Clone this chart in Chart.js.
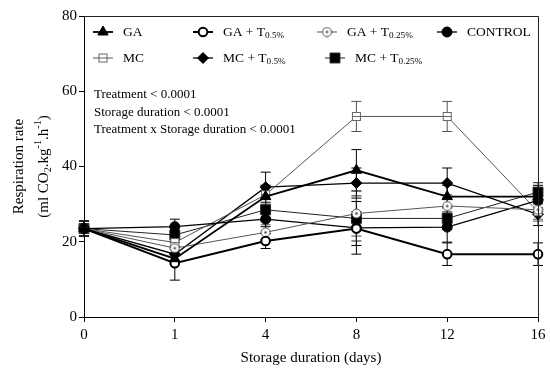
<!DOCTYPE html>
<html>
<head>
<meta charset="utf-8">
<script src="https://cdn.jsdelivr.net/npm/chart.js@4.4.1/dist/chart.umd.min.js"></script>
<style>
  html, body { margin: 0; padding: 0; background: #fff; }
  #wrap { width: 550px; height: 372px; }
</style>
</head>
<body>
<div id="wrap"><canvas id="myChart" width="550" height="372"></canvas></div>
<script>
// data
var days = ['0', '1', '4', '8', '12', '16'];
var yTicks = [0, 20, 40, 60, 80];

var ga      = [23.5, 15.5, 32.0, 39.0, 32.0, 32.0];
var gaT05   = [23.5, 14.3, 20.2, 23.5, 16.7, 16.7];
var gaT025  = [23.5, 18.3, 22.5, 27.5, 29.5, 28.5];
var control = [23.5, 24.0, 26.0, 23.7, 23.9, 31.0];
var mc      = [23.5, 19.8, 32.5, 53.3, 53.3, 28.0];
var mcT05   = [23.5, 16.7, 34.5, 35.6, 35.6, 27.3];
var mcT025  = [23.5, 21.8, 28.5, 26.2, 26.2, 33.2];

// error bars (+/-)
var gaErr      = [2, 1.5, 3, 5.5, 3, 3];
var gaT05Err   = [2, 4.5, 2, 4.5, 3, 3];
var gaT025Err  = [2, 2, 2, 6, 3, 3];
var controlErr = [2, 2, 2, 7, 4, 3];
var mcErr      = [2, 2, 2.5, 4, 4, 2];
var mcT05Err   = [2, 2, 4, 4, 4, 3];
var mcT025Err  = [2, 2, 3, 6, 3, 2.5];

var SERIF = "'Liberation Serif', 'DejaVu Serif', serif";

// custom marker images: open square with bar, open circle with dot
function makeBoxBar() {
    var c = document.createElement('canvas');
    c.width = 11; c.height = 11;
    var g = c.getContext('2d');
    g.fillStyle = '#fff';
    g.fillRect(1, 1, 9, 9);
    g.strokeStyle = '#666';
    g.lineWidth = 1;
    g.strokeRect(1.5, 1.5, 8, 8);
    g.beginPath(); g.moveTo(1.5, 5.5); g.lineTo(9.5, 5.5); g.stroke();
    return c;
}
function makeCircleDot() {
    var c = document.createElement('canvas');
    c.width = 11; c.height = 11;
    var g = c.getContext('2d');
    g.fillStyle = '#fff';
    g.beginPath(); g.arc(5.5, 5.5, 4.5, 0, Math.PI * 2); g.fill();
    g.strokeStyle = '#444';
    g.lineWidth = 1;
    g.stroke();
    g.fillStyle = '#444';
    g.beginPath(); g.arc(5.5, 5.5, 1.2, 0, Math.PI * 2); g.fill();
    return c;
}
var boxBar = makeBoxBar();
var circleDot = makeCircleDot();

function series(label, data, err, color, lw, style, radius, fill, bw) {
    return {
        label: label,
        data: data,
        err: err,
        borderColor: color,
        borderWidth: lw,
        pointStyle: style,
        pointRadius: radius,
        pointHoverRadius: radius,
        pointBackgroundColor: fill,
        pointBorderColor: color,
        pointBorderWidth: bw,
        tension: 0,
        fill: false
    };
}

var datasets = [
    series('GA', ga, gaErr, '#000', 1.8, 'triangle', 6, '#000', 1),
    series('GA + T|0.5%', gaT05, gaT05Err, '#000', 2, 'circle', 4.3, '#fff', 2),
    series('GA + T|0.25%', gaT025, gaT025Err, '#555', 1, circleDot, 5.5, '#fff', 1),
    series('CONTROL', control, controlErr, '#000', 1.3, 'circle', 5, '#000', 1),
    series('MC', mc, mcErr, '#555', 1, boxBar, 5.5, '#fff', 1),
    series('MC + T|0.5%', mcT05, mcT05Err, '#000', 1.3, 'rectRot', 5.5, '#000', 1),
    series('MC + T|0.25%', mcT025, mcT025Err, '#222', 1, 'rect', 7, '#000', 1)
];

// legend slots: [symbol x, text x, row y]
var legendPos = [
    [103, 123, 32], [203, 223, 32], [327, 347, 32], [447, 467, 32],
    [103, 123, 58], [203, 223, 58], [335, 355, 58]
];

var notes = ['Treatment < 0.0001', 'Storage duration < 0.0001', 'Treatment x Storage duration < 0.0001'];

// draw text with sub/superscript parts; parts: [text, kind]
function richWidth(ctx, parts, size) {
    var w = 0;
    parts.forEach(function (p) {
        ctx.font = (p[1] ? size * 0.68 : size) + 'px ' + SERIF;
        w += ctx.measureText(p[0]).width;
    });
    return w;
}
function drawRich(ctx, parts, x, y, size) {
    parts.forEach(function (p) {
        var s = p[1] ? size * 0.68 : size;
        var dy = p[1] === 'sub' ? size * 0.3 : (p[1] === 'sup' ? -size * 0.38 : 0);
        ctx.font = s + 'px ' + SERIF;
        ctx.fillText(p[0], x, y + dy);
        x += ctx.measureText(p[0]).width;
    });
}

var errorBars = {
    id: 'errorBars',
    beforeDatasetsDraw: function (chart) {
        var ctx = chart.ctx, yS = chart.scales.y, xS = chart.scales.x;
        ctx.save();
        chart.data.datasets.forEach(function (ds) {
            ctx.strokeStyle = ds.borderColor;
            ctx.lineWidth = 1;
            ds.data.forEach(function (v, i) {
                var x = xS.getPixelForValue(i);
                var y1 = yS.getPixelForValue(v + ds.err[i]);
                var y2 = yS.getPixelForValue(v - ds.err[i]);
                ctx.beginPath();
                ctx.moveTo(x, y1); ctx.lineTo(x, y2);
                ctx.moveTo(x - 5, y1); ctx.lineTo(x + 5, y1);
                ctx.moveTo(x - 5, y2); ctx.lineTo(x + 5, y2);
                ctx.stroke();
            });
        });
        ctx.restore();
    }
};

var decor = {
    id: 'decor',
    afterDraw: function (chart) {
        var ctx = chart.ctx, a = chart.chartArea;
        ctx.save();
        // frame top + right
        ctx.strokeStyle = '#222';
        ctx.lineWidth = 1;
        ctx.beginPath();
        ctx.moveTo(a.left, a.top + 0.5); ctx.lineTo(a.right + 0.5, a.top + 0.5);
        ctx.lineTo(a.right + 0.5, a.bottom);
        ctx.stroke();

        ctx.fillStyle = '#000';
        ctx.textBaseline = 'middle';

        // legend
        chart.data.datasets.forEach(function (ds, i) {
            var p = legendPos[i];
            ctx.strokeStyle = ds.borderColor;
            ctx.lineWidth = ds.borderWidth;
            ctx.beginPath();
            ctx.moveTo(p[0] - 10, p[2]); ctx.lineTo(p[0] + 10, p[2]);
            ctx.stroke();
            ctx.fillStyle = ds.pointBackgroundColor;
            ctx.strokeStyle = ds.pointBorderColor;
            ctx.lineWidth = ds.pointBorderWidth;
            Chart.helpers.drawPoint(ctx, {
                pointStyle: ds.pointStyle, radius: ds.pointRadius,
                borderWidth: ds.pointBorderWidth, rotation: 0
            }, p[0], p[2]);
            ctx.fillStyle = '#000';
            var bits = ds.label.split('|');
            var parts = [[bits[0]]];
            if (bits[1]) parts.push([bits[1], 'sub']);
            drawRich(ctx, parts, p[1], p[2], 13.5);
        });

        // stats notes
        ctx.font = '13px ' + SERIF;
        notes.forEach(function (t, i) {
            ctx.fillText(t, a.left + 10, 95 + i * 17.5);
        });

        // x title
        ctx.textAlign = 'center';
        ctx.font = '15px ' + SERIF;
        ctx.fillText('Storage duration (days)', (a.left + a.right) / 2, 358);
        ctx.textAlign = 'left';

        // y title, two lines rotated
        var yc = (a.top + a.bottom) / 2;
        var l1 = [['Respiration rate']];
        var l2 = [['(ml CO'], ['2', 'sub'], ['.kg'], ['-1', 'sup'], ['.h'], ['-1', 'sup'], [')']];
        ctx.translate(19, yc);
        ctx.rotate(-Math.PI / 2);
        drawRich(ctx, l1, -richWidth(ctx, l1, 15) / 2, 0, 15);
        ctx.translate(0, 25);
        drawRich(ctx, l2, -richWidth(ctx, l2, 15) / 2, 0, 15);
        ctx.restore();
    }
};

new Chart(document.getElementById('myChart'), {
    type: 'line',
    data: { labels: days, datasets: datasets },
    options: {
        responsive: false,
        animation: false,
        events: [],
        layout: { padding: { left: 0, right: 12, top: 16, bottom: 0 } },
        plugins: {
            legend: { display: false },
            tooltip: { enabled: false }
        },
        scales: {
            x: {
                type: 'category',
                offset: false,
                grid: { display: true, drawOnChartArea: false, drawTicks: true, tickLength: 5, color: '#000' },
                border: { display: true, color: '#000', width: 1 },
                ticks: { color: '#000', font: { family: SERIF, size: 15 }, padding: 4, maxRotation: 0 },
                afterFit: function (s) { s.height = 55; }
            },
            y: {
                min: 0,
                max: 80,
                afterBuildTicks: function (s) { s.ticks = yTicks.map(function (v) { return { value: v }; }); },
                grid: { display: true, drawOnChartArea: false, drawTicks: true, tickLength: 5, color: '#000' },
                border: { display: true, color: '#000', width: 1 },
                ticks: { color: '#000', font: { family: SERIF, size: 15 }, padding: 2 },
                afterFit: function (s) { s.width = 84; }
            }
        }
    },
    plugins: [errorBars, decor]
});
</script>
</body>
</html>
